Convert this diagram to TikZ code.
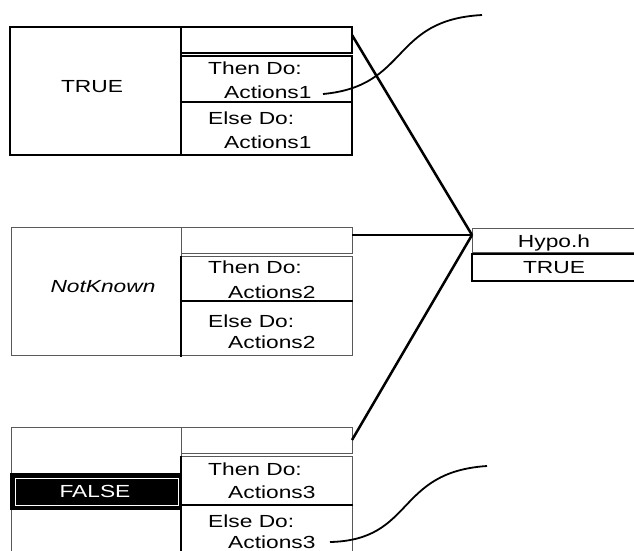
\documentclass[tikz,border=0pt]{standalone}
\usepackage{fontspec}
\setmainfont{Liberation Sans}[FakeStretch=1.3]
\begin{document}
\begin{tikzpicture}[x=1pt,y=-1pt,
  box/.style={rectangle, inner sep=0pt, outer sep=0pt, anchor=north west},
  heavy/.style={line width=2.5pt, draw=black},
  light/.style={line width=1pt, draw=black!65},
  lbl/.style={inner sep=0pt, anchor=base west, font=\fontsize{17.5}{20}\selectfont},
  clbl/.style={inner sep=0pt, anchor=base, font=\fontsize{17.5}{20}\selectfont},
  conn/.style={line width=2.5pt},
  note/.style={line width=1.8pt}
]
\useasboundingbox (0,0) rectangle (634,550);
\clip (0,0) rectangle (634,550);
\fill[white] (0,0) rectangle (634,550);

% ---- block 1 (TRUE) ----
\node[box, heavy, minimum width=171pt, minimum height=128pt] (c1) at (10,27) {};
\node[box, line width=2pt, draw, minimum width=171pt, minimum height=26pt] (top1) at (181,27) {};
\node[box, heavy, minimum width=171pt, minimum height=99pt] (then1) at (181,56) {};
\draw[heavy] (181,102) -- (352,102);
\node[clbl] (v1) at (92,92) {TRUE};
\node[lbl] (td1) at (208,74) {Then Do:};
\node[lbl] (ta1) at (224,98) {Actions1};
\node[lbl] (ed1) at (208,124) {Else Do:};
\node[lbl] (ea1) at (224,148) {Actions1};

% ---- block 2 (NotKnown) ----
\node[box, light, minimum width=170pt, minimum height=128pt] (c2) at (11,227) {};
\node[box, light, minimum width=171pt, minimum height=26pt] (top2) at (181,227) {};
\node[box, light, minimum width=171pt, minimum height=99pt] (then2) at (181,256) {};
\draw[heavy] (181,256) -- (181,357);
\draw[heavy] (181,301) -- (353,301);
\node[clbl, font=\fontsize{17.5}{20}\selectfont\itshape] (v2) at (103,292) {NotKnown};
\node[lbl] (td2) at (208,273) {Then Do:};
\node[lbl] (ta2) at (228,298) {Actions2};
\node[lbl] (ed2) at (208,327) {Else Do:};
\node[lbl] (ea2) at (228,348) {Actions2};

% ---- block 3 (FALSE) ----
\node[box, light, minimum width=170pt, minimum height=140pt] (c3) at (11,427) {};
\node[box, light, minimum width=171pt, minimum height=26pt] (top3) at (181,427) {};
\node[box, light, minimum width=171pt, minimum height=110pt] (then3) at (181,456) {};
\draw[heavy] (181,456) -- (181,560);
\draw[heavy] (181,505) -- (353,505);
\node[box, fill=black, minimum width=172pt, minimum height=37pt] (fbox) at (10,473) {};
\node[box, draw=white, line width=1pt, minimum width=163pt, minimum height=27pt] (finner) at (15,478) {};
\node[clbl, text=white] (v3) at (95,497) {FALSE};
\node[lbl] (td3) at (208,475) {Then Do:};
\node[lbl] (ta3) at (228,498) {Actions3};
\node[lbl] (ed3) at (208,527) {Else Do:};
\node[lbl] (ea3) at (228,548) {Actions3};

% ---- hypothesis ----
\node[box, light, minimum width=170pt, minimum height=24pt] (hypo) at (472,228) {};
\node[clbl] (hn) at (554,247) {Hypo.h};
\node[box, line width=2pt, draw, minimum width=170pt, minimum height=27pt] (hval) at (472,254) {};
\node[clbl] (hv) at (554,273) {TRUE};

% ---- connectors ----
\coordinate (p1) at (352,35);
\coordinate (p2) at (352,235);
\coordinate (p3) at (352,440);
\coordinate (hub) at (472,235);
\draw[conn] (p1) -- (hub);
\draw[conn] (p2) -- (hub);
\draw[conn] (p3) -- (hub);

% ---- annotation curves ----
\coordinate (s1) at (323,94);
\coordinate (e1) at (482,15);
\coordinate (s2) at (330,542);
\coordinate (e2) at (487,466);
\draw[note] (s1) .. controls (410,86) and (390,20) .. (e1);
\draw[note] (s2) .. controls (415,540) and (395,472) .. (e2);
\end{tikzpicture}
\end{document}
